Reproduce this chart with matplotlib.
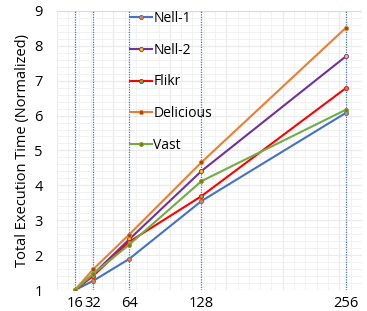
import matplotlib
matplotlib.use("Agg")
import matplotlib.pyplot as plt
from matplotlib.ticker import MultipleLocator

plt.rcParams["font.family"] = ["Open Sans", "DejaVu Sans"]

# Данные
cores = [16, 32, 64, 128, 256]
series_names = ["Nell-1", "Nell-2", "Flikr", "Delicious", "Vast"]
nell1 = [1.0, 1.26, 1.89, 3.55, 6.08]
nell2 = [1.0, 1.45, 2.45, 4.41, 7.70]
flikr = [1.0, 1.40, 2.38, 3.69, 6.79]
delicious = [1.0, 1.59, 2.59, 4.66, 8.52]
vast = [1.0, 1.46, 2.30, 4.12, 6.17]

line_colors = ["#4472C4", "#7030A0", "#FF0000", "#ED7D31", "#70AD47"]
marker_colors = ["#ED7D31", "#FFC000", "#70AD47", "#9E480E", "#997300"]

fig = plt.figure(figsize=(3.67, 3.11), dpi=100)
ax = fig.add_axes([0.155, 0.0675, 0.831, 0.8975])

# Вертикальные пунктирные линии на значениях x
for c in cores:
    ax.axvline(c, color="#4472C4", linestyle=(0, (1, 1)), linewidth=0.9, zorder=1)

for name, vals, lc, mc in zip(series_names, [nell1, nell2, flikr, delicious, vast],
                              line_colors, marker_colors):
    ax.plot(cores, vals, color=lc, linewidth=1.5, marker="o", markersize=3,
            markerfacecolor=mc, markeredgecolor=lc, markeredgewidth=0.6,
            label=name, zorder=3)

ax.set_xlim(0, 270)
ax.set_ylim(1, 9)
ax.set_xticks(cores)
ax.set_xticklabels([str(c) for c in cores])
ax.set_yticks(range(1, 10))

ax.xaxis.set_minor_locator(MultipleLocator(10))
ax.yaxis.set_minor_locator(MultipleLocator(0.2))
ax.tick_params(axis="both", which="both", length=0, labelsize=10.5, pad=4)
ax.tick_params(axis="y", pad=10)

# Сетка
ax.grid(False)
for v in range(0, 271, 50):
    ax.axvline(v, color="#D9D9D9", linewidth=0.8, zorder=0)
for v in range(0, 271, 10):
    ax.axvline(v, color="#EFEFEF", linewidth=0.6, zorder=0)
for v in range(1, 10):
    ax.axhline(v, color="#D9D9D9", linewidth=0.8, zorder=0)
for i in range(5, 45):
    ax.axhline(i * 0.2, color="#EFEFEF", linewidth=0.6, zorder=0)

for s in ax.spines.values():
    s.set_visible(False)

ax.set_ylabel("Total Execution Time (Normalized)", fontsize=10.5, labelpad=3)

ax.legend(loc="upper left", bbox_to_anchor=(0.22, 1.02), frameon=False,
          fontsize=10, handlelength=1.6, handletextpad=0.1, labelspacing=1.21,
          borderaxespad=0)

plt.savefig("out.png", dpi=100)
